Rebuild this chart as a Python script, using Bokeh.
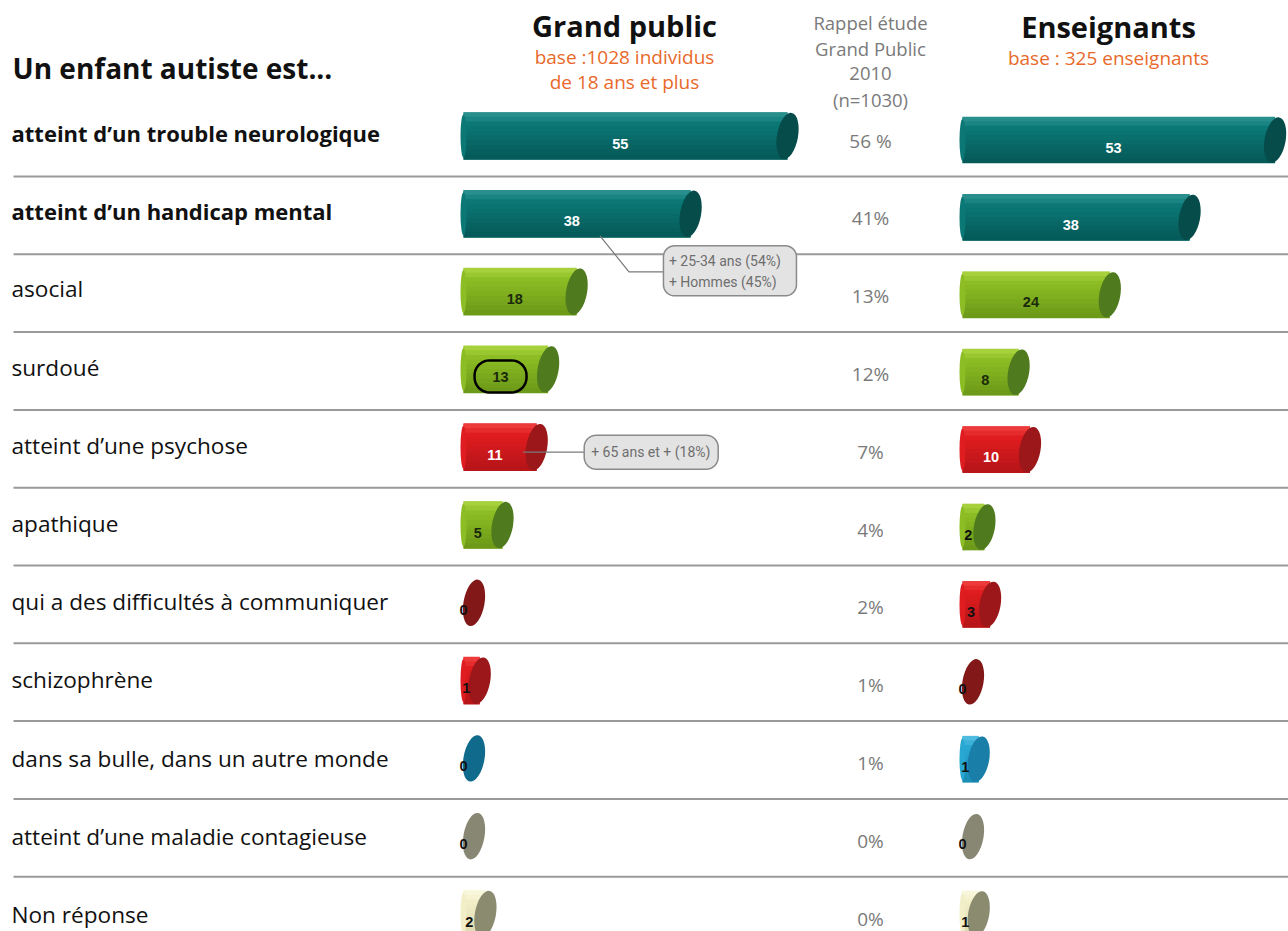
import numpy as np
from bokeh.plotting import figure
from bokeh.models import Range1d, ColumnDataSource
from bokeh.core.properties import value
from bokeh.embed import file_html
from bokeh.resources import INLINE

# ---------------- data ----------------
categories = [
    "atteint d’un trouble neurologique",
    "atteint d’un handicap mental",
    "asocial",
    "surdoué",
    "atteint d’une psychose",
    "apathique",
    "qui a des difficultés à communiquer",
    "schizophrène",
    "dans sa bulle, dans un autre monde",
    "atteint d’une maladie contagieuse",
    "Non réponse",
]
bold_rows = [True, True, False, False, False, False, False, False, False, False, False]
grand_public = [55, 38, 18, 13, 11, 5, 0, 1, 0, 0, 2]
enseignants = [53, 38, 24, 8, 10, 2, 3, 0, 1, 0, 1]
rappel_2010 = ["56 %", "41%", "13%", "12%", "7%", "4%", "2%", "1%", "1%", "0%", "0%"]
gp_family = ["teal", "teal", "green", "green", "red", "green", "darkred", "red", "blue", "gray", "cream"]
en_family = ["teal", "teal", "green", "green", "red", "green", "red", "darkred", "lightblue", "gray", "cream"]

callouts = [
    (1, ["+ 25-34 ans (54%)", "+ Hommes (45%)"]),
    (4, ["+ 65 ans et + (18%)"]),
]
highlight_row = 3  # circled value in Grand public

# ---------------- styles ----------------
PAL = {
    # top, mid, bottom, cap, label
    "teal": ("#2f9593", "#0b7876", "#055957", "#054c4b", "white"),
    "green": ("#acd642", "#8dbd24", "#6b9818", "#4f7b1e", "#1b2a0c"),
    "red": ("#f04242", "#df1c1f", "#b51519", "#9b171a", "white"),
    "darkred": ("#a52626", "#8e1c1c", "#701515", "#821818", "#111111"),
    "blue": ("#2485a8", "#146f93", "#0c5875", "#0f6a8c", "#111111"),
    "lightblue": ("#58c1e3", "#28a7d3", "#1a8cb4", "#1a7fa8", "#111111"),
    "gray": ("#9c9c8a", "#8a8a76", "#767664", "#878773", "#111111"),
    "cream": ("#fbf9e0", "#f2eec8", "#ddd8aa", "#8b8b70", "#111111"),
}

W, H = 1288, 931
K = 5.7          # px per percentage point
X0 = 463         # px where Grand public bars start
ROW0 = 132       # px of first row centre (category labels)
ROWH = 78.2      # px per row (category labels)
CAP_W = 21       # px cylinder cap width
FONT = "Open Sans"


def ux(px):
    return (px - X0) / K


def uy(py):
    return (py - ROW0) / ROWH


def hex2rgb(h):
    h = h.lstrip("#")
    return np.array([int(h[i:i + 2], 16) for i in (0, 2, 4)], dtype=float)


def lerp(c1, c2, t):
    c = hex2rgb(c1) * (1 - t) + hex2rgb(c2) * t
    return "#%02x%02x%02x" % tuple(int(round(v)) for v in c)


def strip_colors(top, mid, bot, n):
    out = []
    for k in range(n):
        t = (k + 0.5) / n
        if t < 0.25:
            out.append(lerp(top, mid, t / 0.25))
        else:
            out.append(lerp(mid, bot, (t - 0.25) / 0.75))
    return out


p = figure(width=W, height=H,
           x_range=Range1d(ux(0), ux(W)),
           y_range=Range1d(uy(H), uy(0)),
           output_backend="svg", toolbar_location=None,
           x_axis_type=None, y_axis_type=None,
           min_border=0, min_border_left=0, min_border_right=0,
           min_border_top=0, min_border_bottom=0,
           outline_line_color=None)
p.grid.visible = False
p.background_fill_color = "white"
p.border_fill_color = "white"


def txt(x, y, s, size, color, bold=False, align="left", font=FONT, baseline="middle"):
    p.text(x=[x], y=[y], text=[s], text_font=value(font),
           text_font_size=f"{size}px", text_color=color,
           text_font_style="bold" if bold else "normal",
           text_align=align, text_baseline=baseline)


# ---------------- separators ----------------
n = len(categories)
sep_y = [uy(176 + 77.8 * i) for i in range(n - 1)]
p.segment(x0=[ux(13)] * len(sep_y), x1=[ux(1288)] * len(sep_y), y0=sep_y, y1=sep_y,
          line_color="#9a9a9a", line_width=2)

# ---------------- headers ----------------
txt(ux(12), uy(67), "Un enfant autiste est...", 28, "#111111", bold=True)
txt(ux(624), uy(25), "Grand public", 29, "#111111", bold=True, align="center")
txt(ux(624), uy(56), "base :1028 individus", 19, "#e8692a", align="center")
txt(ux(624), uy(81), "de 18 ans et plus", 19, "#e8692a", align="center")
for k, s in enumerate(["Rappel étude", "Grand Public", "2010", "(n=1030)"]):
    txt(ux(870), uy(22 + 25.7 * k), s, 18.5, "#7a7a7a", align="center")
txt(ux(1108), uy(26), "Enseignants", 29, "#111111", bold=True, align="center")
txt(ux(1108), uy(57), "base : 325 enseignants", 19, "#e8692a", align="center")

# ---------------- categories and 2010 column ----------------
for i, c in enumerate(categories):
    txt(ux(11), i, c, 22 if bold_rows[i] else 22.6, "#111111", bold=bold_rows[i])
    txt(ux(870), uy(140 + 77.8 * i), rappel_2010[i], 19, "#7a7a7a", align="center")

# ---------------- cylinders ----------------
NSTRIP = 10
series = [
    # values, colour families, left edge (px), first bar centre (px), bar spacing (px), bar height (px)
    (grand_public, gp_family, 463, 135.5, 77.8, 47),
    (enseignants, en_family, 962, 139.5, 77.4, 46),
]
for vals, fams, left_px, c0, dy, hpx in series:
    left = ux(left_px)
    hb = hpx / ROWH
    bl, br, byy, bc = [], [], [], []
    sx_l, sx_r, sy, sh, sc = [], [], [], [], []
    lx, ly, lc = [], [], []
    cx, cy, cc = [], [], []
    tx, ty, tt, tc = [], [], [], []
    for i, v in enumerate(vals):
        top, mid, bot, cap, lab = PAL[fams[i]]
        yc = uy(c0 + dy * i)
        right = left + v + (CAP_W / 2) / K
        if v > 0:
            bl.append(left)
            br.append(right)
            byy.append(yc)
            bc.append(mid)
            cols = strip_colors(top, mid, bot, NSTRIP)
            for k in range(NSTRIP):
                sx_l.append(left)
                sx_r.append(right)
                sy.append(yc - hb / 2 + (k + 0.5) * hb / NSTRIP)
                sh.append(hb / NSTRIP * 1.15)
                sc.append(cols[k])
            lx.append(left)
            ly.append(yc)
            lc.append(mid)
        cx.append(right)
        cy.append(yc)
        cc.append(cap)
        tx.append(left + v / 2)
        ty.append(yc + 7.5 / ROWH)
        tt.append(str(v))
        tc.append(lab if v >= 5 else "#111111")
    p.hbar(y="y", left="l", right="r", height=hb, fill_color="c", line_color=None,
           source=ColumnDataSource(dict(y=byy, l=bl, r=br, c=bc)))
    p.hbar(y="y", left="l", right="r", height="h", fill_color="c", line_color=None,
           source=ColumnDataSource(dict(y=sy, l=sx_l, r=sx_r, h=sh, c=sc)))
    p.ellipse(x="x", y="y", width=6, height=hpx - 4, width_units="screen", height_units="screen",
              fill_color="c", line_color=None,
              source=ColumnDataSource(dict(x=lx, y=ly, c=lc)))
    p.ellipse(x="x", y="y", width=CAP_W, height=hpx, width_units="screen", height_units="screen",
              angle=-0.18, fill_color="c", line_color=None,
              source=ColumnDataSource(dict(x=cx, y=cy, c=cc)))
    p.text(x="x", y="y", text="t", text_color="c", text_font=value("Liberation Sans"),
           text_font_size="14.5px", text_font_style="bold", text_align="center",
           text_baseline="middle",
           source=ColumnDataSource(dict(x=tx, y=ty, t=tt, c=tc)))


def rounded_rect(cx_px, cy_px, w, h, r, npts=10):
    xs, ys = [], []
    corners = [(cx_px + w / 2 - r, cy_px - h / 2 + r, -np.pi / 2, 0),
               (cx_px + w / 2 - r, cy_px + h / 2 - r, 0, np.pi / 2),
               (cx_px - w / 2 + r, cy_px + h / 2 - r, np.pi / 2, np.pi),
               (cx_px - w / 2 + r, cy_px - h / 2 + r, np.pi, 1.5 * np.pi)]
    for (ccx, ccy, a0, a1) in corners:
        for a in np.linspace(a0, a1, npts):
            xs.append(ux(ccx + r * np.cos(a)))
            ys.append(uy(ccy + r * np.sin(a)))
    return xs, ys


GP_LEFT, GP_C0, GP_DY = 463, 135.5, 77.8

# highlight oval around a Grand public value
hv = grand_public[highlight_row]
ox = GP_LEFT + hv / 2 * K
oy = GP_C0 + GP_DY * highlight_row + 7
xs, ys = rounded_rect(ox, oy, 52, 32, 15)
p.patch(xs, ys, fill_color=None, line_color="black", line_width=2.5)

# callouts
GREY_TXT = "#6e6e6e"
CFONT = "Roboto"
r1, lines1 = callouts[0]
bar_y = GP_C0 + GP_DY * r1
sx0 = GP_LEFT + grand_public[r1] * 0.63 * K
p.line([ux(sx0), ux(sx0 + 29), ux(sx0 + 63)], [uy(bar_y + 22), uy(bar_y + 58), uy(bar_y + 58)],
       line_color="#7a7a7a", line_width=1.2)
bx, by = sx0 + 130, bar_y + 57
xs, ys = rounded_rect(bx, by, 133, 50, 11)
p.patch(xs, ys, fill_color="#e3e3e3", line_color="#8a8a8a", line_width=1.5)
for k, s in enumerate(lines1):
    txt(ux(bx - 61), uy(by - 10 + 21 * k), s, 14, GREY_TXT, font=CFONT)

r2, lines2 = callouts[1]
bar_y2 = GP_C0 + GP_DY * r2 + 5
end2 = GP_LEFT + grand_public[r2] * K + 6
p.line([ux(end2 - 9), ux(end2 + 52)], [uy(bar_y2), uy(bar_y2)], line_color="#7a7a7a", line_width=1.2)
bx2 = end2 + 52 + 67
xs, ys = rounded_rect(bx2, bar_y2, 134, 34, 12)
p.patch(xs, ys, fill_color="#e3e3e3", line_color="#8a8a8a", line_width=1.5)
txt(ux(bx2 - 60), uy(bar_y2), lines2[0], 14, GREY_TXT, font=CFONT)

open("out.html", "w").write(file_html(p, INLINE))
